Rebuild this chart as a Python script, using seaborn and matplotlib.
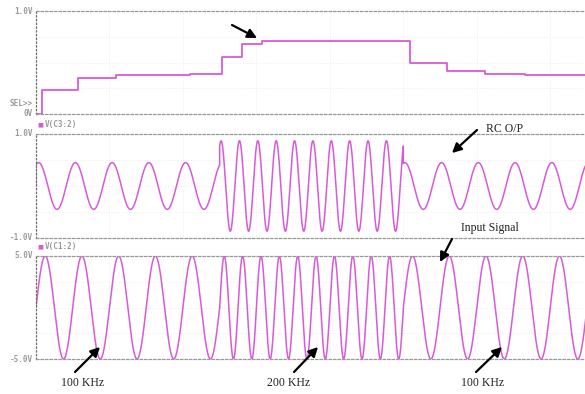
import numpy as np
import pandas as pd
import matplotlib
matplotlib.use("Agg")
import matplotlib.pyplot as plt
import seaborn as sns

# ---------------- data ----------------
# time axis in microseconds
x_limits_us = [0, 150]
grid_times_us = [20, 40, 60, 80, 100, 120, 140]

# input signal segments: 100 kHz, 200 kHz, 100 kHz
segment_start_us = [0, 50, 100]
segment_end_us = [50, 100, 150]
input_freq_khz = [100, 200, 100]
input_amp = [1.0, 1.0, 1.0]

# RC output (V(C3:2)) per segment: amplitude (relative) and phase lead
rc_amp = [0.45, 0.87, 0.45]
rc_lead_deg = [64, 62, 75]
rc_initial = 0.0

# top trace: stepped level
step_time_us = [0, 1.6, 11.4, 21.8, 33, 42, 50.7, 56, 61.6, 101.9, 112, 122.3, 133.2, 150]
step_level = [0, 0.233, 0.35, 0.379, 0.383, 0.388, 0.553, 0.68, 0.709, 0.495, 0.417, 0.388, 0.379, 0.379]

legend_labels = ["V(C3:2)", "V(C1:2)"]
annotation_texts = ["RC O/P", "Input Signal", "100 KHz", "200 KHz", "100 KHz"]

# ---------------- build series ----------------
def build_wave(amps, leads_deg, initial=None, n=1500):
    ts, vs = [], []
    if initial is not None:
        ts.append(np.array([0.0]))
        vs.append(np.array([initial]))
    for s, e, f, a, ld in zip(segment_start_us, segment_end_us, input_freq_khz, amps, leads_deg):
        t = np.linspace(s, e, n)
        v = a * np.sin(2 * np.pi * f * t / 1000.0 + np.deg2rad(ld))
        ts.append(t)
        vs.append(v)
    return pd.DataFrame({"t": np.concatenate(ts), "v": np.concatenate(vs)})

df_in = build_wave(input_amp, [0, 0, 0])
df_rc = build_wave(rc_amp, rc_lead_deg, initial=rc_initial)
df_step = pd.DataFrame({"t": step_time_us, "v": step_level})

# ---------------- figure ----------------
sns.set_theme(style="white")
W, H = 585, 394
fig = plt.figure(figsize=(W / 100, H / 100), dpi=100)
fig.patch.set_facecolor("white")

LINE = "#d85ad8"
DASH = "#999999"

def px_axes(x0, y_top, x1, y_bot):
    return fig.add_axes([x0 / W, (H - y_bot) / H, (x1 - x0) / W, (y_bot - y_top) / H])

ax_top = px_axes(36, 11, 587, 114)
ax_mid = px_axes(36, 134, 587, 238)
ax_bot = px_axes(36, 256, 587, 359)

def style(ax, ylim, yticks):
    ax.set_xlim(*x_limits_us)
    ax.set_ylim(*ylim)
    ax.set_facecolor("white")
    for side in ["top", "bottom"]:
        ax.spines[side].set_visible(True)
        ax.spines[side].set_color(DASH)
        ax.spines[side].set_linestyle((0, (2, 1.6)))
        ax.spines[side].set_linewidth(0.9)
    ax.spines["left"].set_color("#6a6a6a")
    ax.spines["left"].set_linestyle((0, (1, 2)))
    ax.spines["left"].set_linewidth(0.9)
    ax.spines["right"].set_visible(False)
    ax.set_xticks(grid_times_us)
    ax.set_yticks(yticks)
    ax.tick_params(length=0, labelleft=False, labelbottom=False)
    ax.grid(True, color="#eeeeee", linestyle=":", linewidth=0.7)
    ax.set_xlabel("")
    ax.set_ylabel("")

sns.lineplot(data=df_step, x="t", y="v", ax=ax_top, color=LINE, lw=1.3,
             drawstyle="steps-post", estimator=None, sort=False)
style(ax_top, (0, 1), [0.25, 0.5, 0.75])

sns.lineplot(data=df_rc, x="t", y="v", ax=ax_mid, color=LINE, lw=1.1,
             estimator=None, sort=False)
style(ax_mid, (-1, 1), [-0.5, 0, 0.5])

sns.lineplot(data=df_in, x="t", y="v", ax=ax_bot, color=LINE, lw=1.1,
             estimator=None, sort=False)
style(ax_bot, (-1, 1), [-0.5, 0, 0.5])

# ---------------- left labels (cropped PSpice axis labels) ----------------
def ftext(x, y, s, **kw):
    fig.text(x / W, (H - y) / H, s, **kw)

lab_kw = dict(family="DejaVu Sans Mono", fontsize=5.5, color="#9a9a9a",
              weight="bold", ha="right", va="center")
ftext(33, 11, "1.0V", **lab_kw)
ftext(33, 104, "SEL>>", **lab_kw)
ftext(33, 114, "0V", **lab_kw)
ftext(33, 134, "1.0V", **lab_kw)
ftext(33, 238, "-1.0V", **lab_kw)
ftext(33, 256, "5.0V", **lab_kw)
ftext(33, 359, "-5.0V", **lab_kw)

# legends
for y, lab in zip([125, 247], legend_labels):
    ftext(40, y, "\u25a0", family="DejaVu Sans", fontsize=4.5, color=LINE,
          ha="center", va="center")
    ftext(45, y, lab, family="DejaVu Sans Mono", fontsize=5.5, color="#9a9a9a",
          weight="bold", ha="left", va="center")

# ---------------- annotations ----------------
arrow = dict(arrowstyle="-|>,head_length=0.55,head_width=0.28", lw=1.6,
             color="black", shrinkA=0, shrinkB=0)

def farrow(x0, y0, x1, y1):
    fig.add_artist(matplotlib.patches.FancyArrowPatch(
        (x0 / W, (H - y0) / H), (x1 / W, (H - y1) / H),
        transform=fig.transFigure, mutation_scale=10, **arrow))

serif = dict(family="Liberation Serif", fontsize=8.5, color="#222222")

farrow(232, 25, 257, 38)

ftext(486, 129, annotation_texts[0], ha="left", va="center", **serif)
farrow(477, 130, 452, 153)

ftext(461, 228, annotation_texts[1], ha="left", va="center", **serif)
farrow(452, 239, 440, 262)

ftext(83, 383, annotation_texts[2], ha="center", va="center", **serif)
farrow(75, 372, 100, 347)

ftext(289, 383, annotation_texts[3], ha="center", va="center", **serif)
farrow(294, 372, 318, 347)

ftext(483, 383, annotation_texts[4], ha="center", va="center", **serif)
farrow(476, 372, 502, 347)

fig.savefig("out.png", dpi=100, facecolor="white")
